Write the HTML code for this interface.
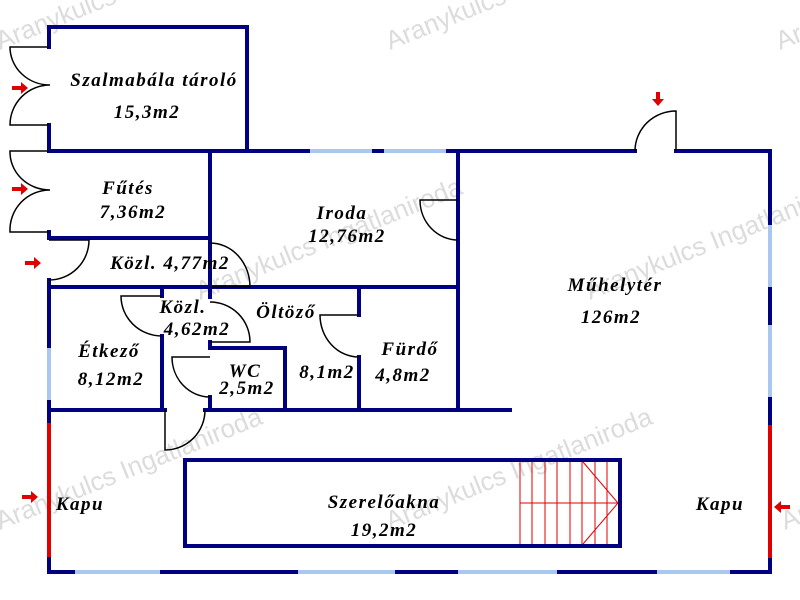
<!DOCTYPE html>
<html><head><meta charset="utf-8"><style>
html,body{margin:0;padding:0;background:#fff;}
svg{display:block;}
.t{font-family:"Liberation Serif",serif;font-weight:bold;font-style:italic;font-size:19px;letter-spacing:1.5px;fill:#000;text-anchor:middle;}
.w{font-family:"Liberation Sans",sans-serif;font-size:26px;fill:#dcdcdc;}
</style></head><body>
<svg width="800" height="600" viewBox="0 0 800 600" xmlns="http://www.w3.org/2000/svg">
<g class="w">
<text x="0" y="50" transform="rotate(-22 0 50)">Aranykulcs</text>
<text x="390" y="50" transform="rotate(-22 390 50)">Aranykulcs</text>
<text x="780" y="50" transform="rotate(-22 780 50)">Ara</text>
<text x="200" y="300" transform="rotate(-22 200 300)">Aranykulcs Ingatlaniroda</text>
<text x="590" y="300" transform="rotate(-22 590 300)">Aranykulcs Ingatlaniroda</text>
<text x="0" y="530" transform="rotate(-22 0 530)">Aranykulcs Ingatlaniroda</text>
<text x="390" y="530" transform="rotate(-22 390 530)">Aranykulcs Ingatlaniroda</text>
<text x="785" y="530" transform="rotate(-22 785 530)">Ar</text>
</g>
<g stroke="#000080" stroke-width="4" fill="none" stroke-linecap="square">
<path d="M49 47V27H247V151"/>
<path d="M49 125V151"/>
<path d="M49 151H310M372 151H384M446 151H635M676 151H770"/>
<path d="M49 232V238H210"/>
<path d="M210 151V287"/>
<path d="M49 280V287H458"/>
<path d="M458 151V410"/>
<path d="M49 287V348M49 400V423"/>
<path d="M162 287V296M162 336V410"/>
<path d="M210 287V297M210 342V348M210 397V410"/>
<path d="M210 348H285V410"/>
<path d="M359 287V315M359 357V410"/>
<path d="M49 410H165M205 410H510"/>
<path d="M49 557V572H75M160 572H298M395 572H458M557 572H657M730 572H770V558"/>
<path d="M770 151V225M770 287V325M770 397V425"/>
<rect x="185" y="460" width="435" height="86"/>
</g>
<g stroke="#a8c8f0" stroke-width="4">
<path d="M310 151H372M384 151H446"/>
<path d="M49 348V400"/>
<path d="M75 572H160M298 572H395M458 572H557M657 572H730"/>
<path d="M770 225V287M770 325V397"/>
</g>
<g stroke="#e00000" stroke-width="4">
<path d="M49 423V557M770 425V558"/>
</g>
<g stroke="#000" stroke-width="1.5" fill="none">
<path d="M49 47H10A40 38 0 0 0 50 85A40 40 0 0 0 10 125H49"/>
<path d="M49 151H10A40 38 0 0 0 50 190A40 40 0 0 0 10 232H49"/>
<path d="M49 240H89A40 40 0 0 1 49 280"/>
<path d="M210 243A40 44 0 0 1 250 287H210"/>
<path d="M458 200H420A38 40 0 0 0 458 240"/>
<path d="M162 296H121A41 40 0 0 0 162 336"/>
<path d="M210 302A40 40 0 0 1 250 342H210"/>
<path d="M210 357H172A38 40 0 0 0 210 397"/>
<path d="M359 315H320A39 42 0 0 0 359 357"/>
<path d="M165 410V450A40 40 0 0 0 205 410"/>
<path d="M635 151A41 40 0 0 1 676 111V151"/>
</g>
<g stroke="#e00000" stroke-width="1" fill="none">
<path d="M520 462V544M532 462V544M545 462V544M557 462V544M570 462V544M582 462V544M595 462V544M607 462V544"/>
<path d="M520 503H618M583 462L618 503L583 544"/>
</g>
<g fill="#e00000">
<path d="M12 86H21V82L28 88L21 94V90H12Z"/>
<path d="M12 187H21V183L28 189L21 195V191H12Z"/>
<path d="M25 261H34V257L41 263L34 269V265H25Z"/>
<path d="M22 495H31V491L38 497L31 503V499H22Z"/>
<path d="M790 505H781V501L774 507L781 513V509H790Z"/>
<path d="M656 92V99H652L658 106L664 99H660V92Z"/>
</g>
<g class="t">
<text x="154" y="86">Szalmabála tároló</text>
<text x="147" y="118">15,3m2</text>
<text x="128" y="194">Fűtés</text>
<text x="133" y="218">7,36m2</text>
<text x="342" y="219">Iroda</text>
<text x="347" y="242">12,76m2</text>
<text x="170" y="269">Közl. 4,77m2</text>
<text x="183" y="313">Közl.</text>
<text x="197" y="335">4,62m2</text>
<text x="286" y="318">Öltöző</text>
<text x="109" y="357">Étkező</text>
<text x="111" y="385">8,12m2</text>
<text x="245" y="377">WC</text>
<text x="247" y="394">2,5m2</text>
<text x="327" y="378">8,1m2</text>
<text x="410" y="355">Fürdő</text>
<text x="403" y="381">4,8m2</text>
<text x="615" y="291">Műhelytér</text>
<text x="611" y="323">126m2</text>
<text x="80" y="510">Kapu</text>
<text x="720" y="510">Kapu</text>
<text x="384" y="508">Szerelőakna</text>
<text x="384" y="536">19,2m2</text>
</g>
</svg>
</body></html>
